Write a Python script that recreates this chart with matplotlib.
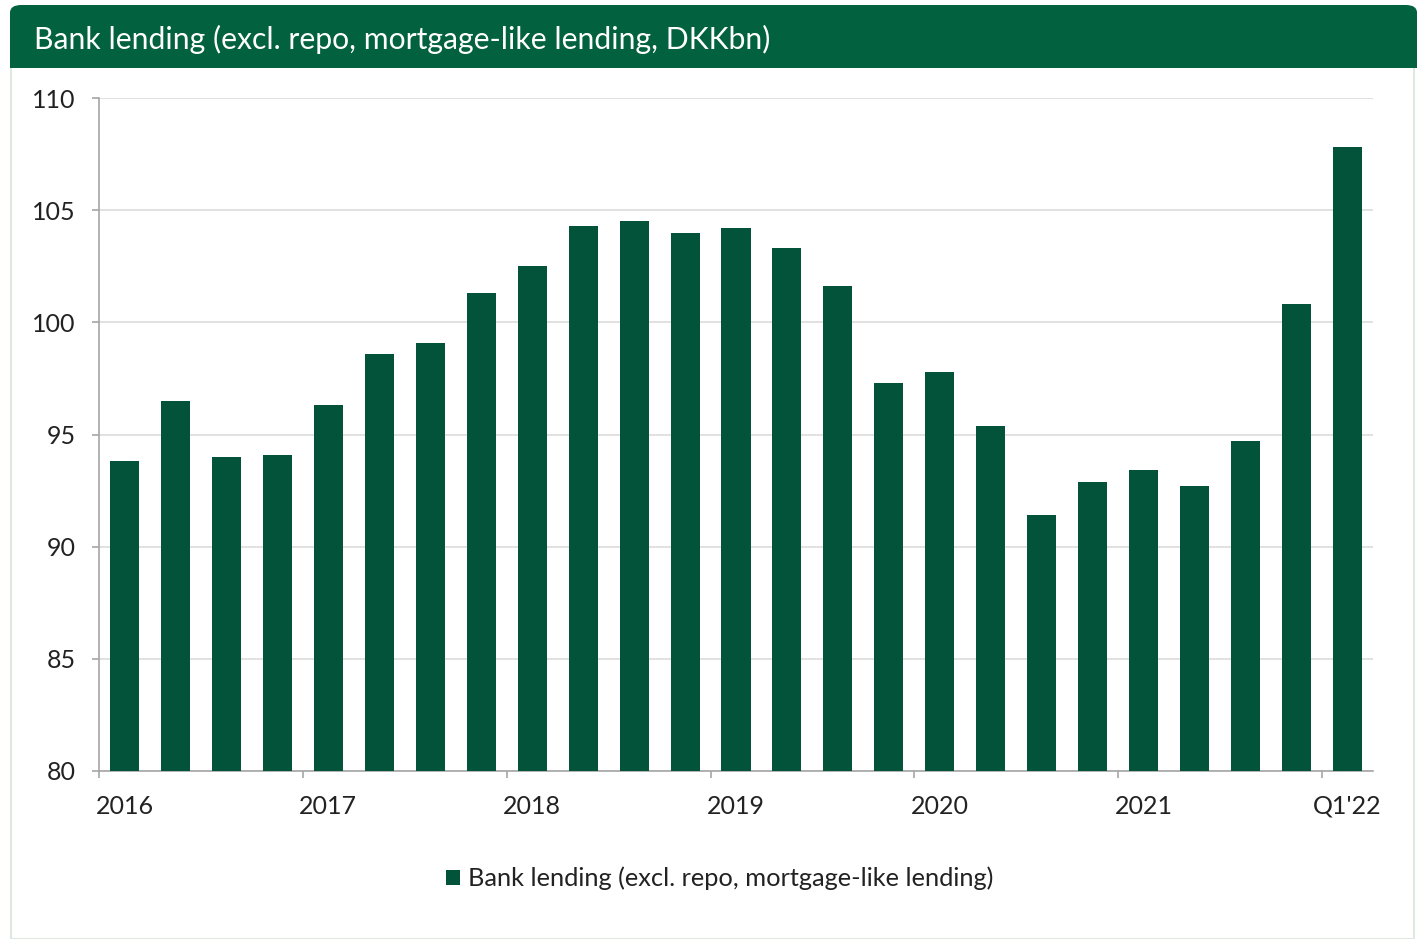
import numpy as np
import matplotlib.pyplot as plt
from matplotlib.patches import FancyBboxPatch, Rectangle

# quarterly bank lending, DKK bn (2016 Q1 .. 2022 Q1)
lending = [93.8, 96.5, 94.0, 94.1,
           96.3, 98.6, 99.1, 101.3,
           102.5, 104.3, 104.5, 104.0,
           104.2, 103.3, 101.6, 97.3,
           97.8, 95.4, 91.4, 92.9,
           93.4, 92.7, 94.7, 100.8,
           107.8]
year_labels = ['2016', '2017', '2018', '2019', '2020', '2021', "Q1'22"]
title = 'Bank lending (excl. repo, mortgage-like lending, DKKbn)'
series_name = 'Bank lending (excl. repo, mortgage-like lending)'

header_green = '#02613F'
bar_green = '#02533A'

plt.rcParams['font.family'] = ['Lato', 'DejaVu Sans']

W, H = 1417, 939
fig = plt.figure(figsize=(W / 100, H / 100), dpi=100)

# panel frame + header band
fig.patches.append(Rectangle((11 / W, 0), (1414 - 11) / W, 1 - 60 / H,
                             transform=fig.transFigure, facecolor='white',
                             edgecolor='#dfe8df', lw=1.5, zorder=-2))
fig.patches.append(FancyBboxPatch((10 / W, 1 - 68 / H), (1417 - 10) / W, 63 / H,
                                  boxstyle='round,pad=0,rounding_size=0.008',
                                  transform=fig.transFigure, facecolor=header_green,
                                  edgecolor='none', zorder=-1))
fig.patches.append(Rectangle((10 / W, 1 - 68 / H), (1417 - 10) / W, 30 / H,
                             transform=fig.transFigure, facecolor=header_green,
                             edgecolor='none', zorder=-1))
fig.text(34 / W, 1 - 39 / H, title, color='white', fontsize=21.7,
         va='center', ha='left')

ax = fig.add_axes([99 / W, 1 - 771 / H, (1373 - 99) / W, (771 - 98) / H])
ax.set_zorder(2)
ax.patch.set_alpha(0)
x = np.arange(len(lending))
ax.bar(x, lending, width=0.57, color=bar_green, label=series_name, zorder=3)

ax.set_xlim(-0.5, len(lending) - 0.5)
ax.set_ylim(80, 110)
ax.set_yticks(np.arange(80, 111, 5))
ax.grid(axis='y', color='#dcdcdc', lw=1.2, zorder=0)
ax.set_axisbelow(True)

# boundary ticks between years, labels under first quarter of each year
ax.set_xticks(np.arange(-0.5, len(lending) - 1, 4))
ax.set_xticklabels([])
ax.set_xticks(np.arange(0, len(lending), 4), minor=True)
ax.set_xticklabels(year_labels, minor=True)
ax.tick_params(axis='x', which='minor', length=0, pad=17, labelsize=18, labelcolor='#222222')
ax.tick_params(axis='x', which='major', length=5, width=1.2, color='#a6a6a6')
ax.tick_params(axis='y', length=5, width=1.2, color='#a6a6a6', labelsize=18,
               labelcolor='#222222', pad=12)

for s in ['top', 'right']:
    ax.spines[s].set_visible(False)
for s in ['left', 'bottom']:
    ax.spines[s].set_color('#a6a6a6')
    ax.spines[s].set_linewidth(1.2)

ax.legend(loc='upper center', bbox_to_anchor=(0.487, -0.108), frameon=False,
          fontsize=18.3, handlelength=0.55, handleheight=0.55, handletextpad=0.3,
          labelcolor='#222222')

fig.savefig('out.png', dpi=100)
